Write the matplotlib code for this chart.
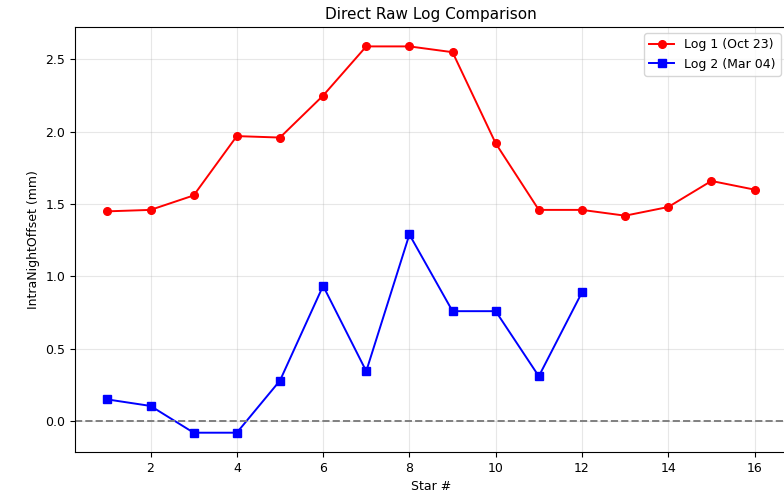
import matplotlib.pyplot as plt

# star numbers and offsets
stars1 = [1, 2, 3, 4, 5, 6, 7, 8, 9, 10, 11, 12, 13, 14, 15, 16]
log1 = [1.45, 1.46, 1.56, 1.97, 1.96, 2.25, 2.59, 2.59, 2.55, 1.92,
        1.46, 1.46, 1.42, 1.48, 1.66, 1.60]
stars2 = [1, 2, 3, 4, 5, 6, 7, 8, 9, 10, 11, 12]
log2 = [0.15, 0.105, -0.08, -0.08, 0.28, 0.935, 0.345, 1.29, 0.76, 0.76,
        0.31, 0.89]

plt.rcParams['font.size'] = 9

fig = plt.figure(figsize=(7.84, 4.97), dpi=100)
ax = fig.add_axes([0.0957, 0.0905, 0.908, 0.855])

ax.plot(stars1, log1, '-o', color='red', label='Log 1 (Oct 23)',
        markersize=5.5, linewidth=1.4)
ax.plot(stars2, log2, '-s', color='blue', label='Log 2 (Mar 04)',
        markersize=5.5, linewidth=1.4)
ax.axhline(0, color='gray', linestyle='--', linewidth=1.4)

ax.set_title('Direct Raw Log Comparison', fontsize=11)
ax.set_xlabel('Star #')
ax.set_ylabel('IntraNightOffset (mm)')
ax.grid(True, alpha=0.3)
ax.legend(loc='upper right')

fig.savefig('out.png', dpi=100)
